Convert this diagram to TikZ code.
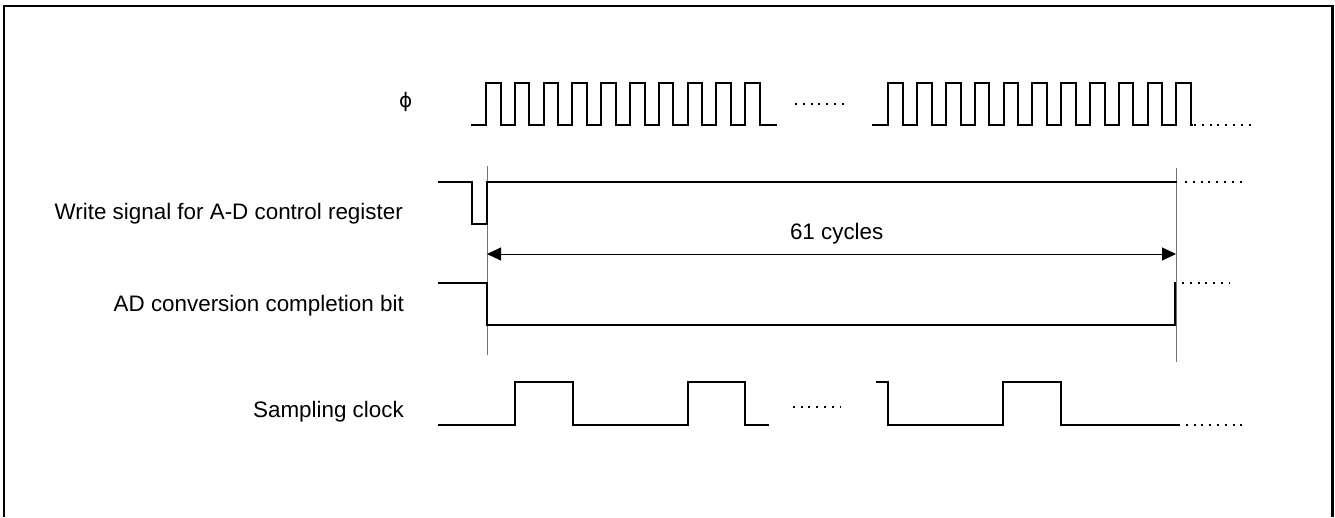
\documentclass[tikz,border=0pt]{standalone}
\usepackage{fontspec}
\setmainfont{Liberation Sans}
\newfontfamily\phifont{DejaVu Sans}
\usetikzlibrary{arrows.meta}
\begin{document}
\begin{tikzpicture}[x=1pt,y=-1pt,
  sig/.style={line width=2pt,line join=miter,line cap=rect},
  guide/.style={line width=1pt,black!55},
  dotline/.style={line width=2pt,dash pattern=on 2pt off 5.8pt},
  lbl/.style={font=\fontsize{22.4}{26}\selectfont,inner sep=0pt,anchor=base east},
  dim/.style={line width=1pt,{Triangle[length=14pt,width=13pt]}-{Triangle[length=14pt,width=13pt]}}
]
\useasboundingbox (0,0) rectangle (1335,517);
% frame
\draw[line width=2.2pt] (4,517) -- (4,6) -- (1332.5,6) -- (1332.5,517);

% labels
\node[inner sep=0pt,font=\phifont\fontsize{20}{24}\selectfont] (phi) at (405.7,101.7) {ϕ};
\node[lbl] (lw) at (403,219.3) {Write signal for A-D control register};
\node[lbl] (lad) at (404,311.7) {AD conversion completion bit};
\node[lbl] (ls) at (404,417.3) {Sampling clock};

% clock phi, group 1
\draw[sig] (472,125)
  \foreach \k in {0,...,9} { -- ({486+28.8*\k},125) -- ({486+28.8*\k},83) -- ({500.6+28.8*\k},83) -- ({500.6+28.8*\k},125) }
  -- (776,125);
\draw[dotline] (795,103.5) -- (845,103.5);
% clock phi, group 2
\draw[sig] (873,125)
  \foreach \k in {0,...,10} { -- ({888.3+28.8*\k},125) -- ({888.3+28.8*\k},83) -- ({902.9+28.8*\k},83) -- ({902.9+28.8*\k},125) }
  -- (1192,125);
\draw[dotline] (1194,125) -- (1254,125);

% guide lines
\coordinate (gl) at (487,254);
\coordinate (gr) at (1176,254);
\draw[guide] (487,166) -- (487,355);
\draw[guide] (1176,168) -- (1176,362);

% write signal
\draw[sig] (439,182) -- (472,182) -- (472,224.3) -- (487,224.3) -- (487,182) -- (1176,182);
\draw[dotline] (1185,182) -- (1244,182);

% 61 cycles
\draw[dim] (gl) -- (gr);
\node[inner sep=0pt,anchor=base,font=\fontsize{22.4}{26}\selectfont] (cyc) at (836.7,239) {61 cycles};

% AD conversion completion bit
\draw[sig] (439,283) -- (487,283) -- (487,325) -- (1175,325) -- (1175,283);
\draw[dotline] (1182,283) -- (1230,283);

% sampling clock
\draw[sig] (439,425.3) -- (515.3,425.3) -- (515.3,382) -- (573.3,382) -- (573.3,425.3)
  -- (687.7,425.3) -- (687.7,382) -- (745,382) -- (745,425.3) -- (767.7,425.3);
\draw[dotline] (792.7,406.7) -- (840,406.7);
\draw[sig] (876.7,382) -- (888.3,382) -- (888.3,425.3) -- (1002.7,425.3) -- (1002.7,382)
  -- (1060.7,382) -- (1060.7,425.3) -- (1176.7,425.3);
\draw[dotline] (1178,425.3) -- (1244,425.3);
\end{tikzpicture}
\end{document}
